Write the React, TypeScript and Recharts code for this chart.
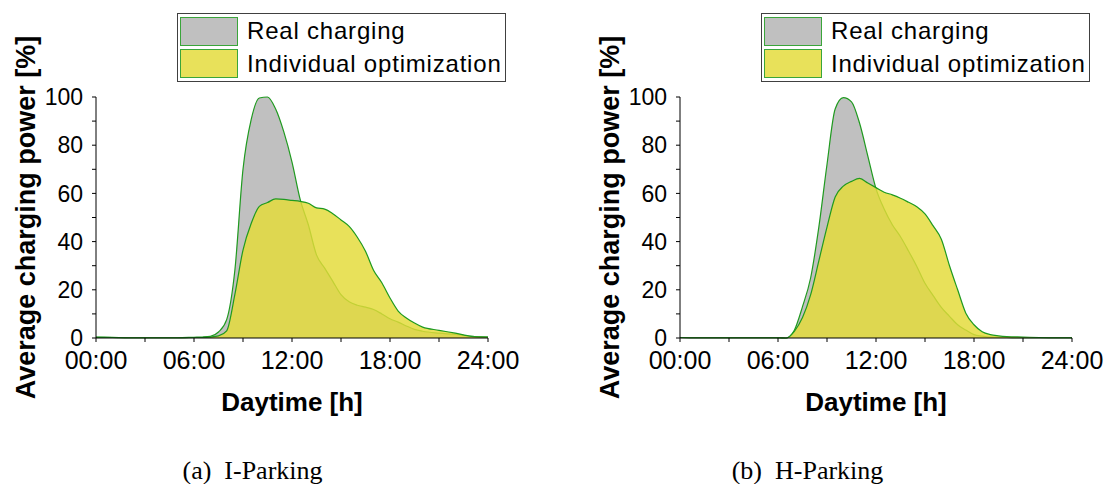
import { AreaChart, Area, XAxis, YAxis, Legend } from 'recharts'

// Time of day in hours, shared by all four profiles
const HOURS = [
  0, 1, 2, 3, 4, 5, 6,
  6.5, 7, 7.5, 8, 8.5, 9, 9.5, 10, 10.5, 11, 11.5, 12, 12.5, 13, 13.5,
  14, 14.5, 15, 15.5, 16, 16.5, 17, 17.5, 18, 18.5, 19, 19.5, 20,
  21, 22, 23, 24,
]

// Average charging power [%], I-Parking
const I_PARKING_REAL = [
  0.4, 0.3, 0.1, 0.1, 0.1, 0.1, 0.3,
  0.4, 0.7, 2.5, 7.6, 28, 70, 90.6, 99.6, 100, 95, 85.5, 73, 57.5, 47, 34.5,
  29, 23.5, 18, 15, 13.6, 12.8, 11.8, 10, 8, 6.6, 5, 3.6, 2.8,
  2, 1.5, 0.7, 0.4,
]
const I_PARKING_OPT = [
  0.3, 0.2, 0.1, 0.1, 0.1, 0.1, 0.2,
  0.2, 0.4, 0.9, 3, 18, 36.5, 47.5, 54.6, 56.2, 57.7, 57.5, 57.1, 56.7, 55.9, 54,
  53.5, 51.6, 49, 46.3, 41.8, 36, 28, 22.9, 16.6, 11.2, 8.3, 6.2, 4.5,
  3.2, 2, 0.7, 0.4,
]

// Average charging power [%], H-Parking
const H_PARKING_REAL = [
  0.2, 0.1, 0.1, 0.1, 0.1, 0.1, 0.1,
  0, 3.2, 13, 25, 46, 72, 95, 99.7, 98, 89, 75.5, 62, 53.5, 47, 42,
  36, 29.7, 22.7, 17.6, 12.7, 9, 5.5, 3.3, 1.4, 0.8, 0.4, 0.3, 0.2,
  0.1, 0.1, 0.1, 0.1,
]
const H_PARKING_OPT = [
  0.2, 0.1, 0.1, 0.1, 0.1, 0.1, 0.1,
  0, 2.8, 8.5, 18, 32, 46, 58.5, 63, 65, 66.2, 64.3, 62.4, 60.5, 59.4, 58,
  56.3, 54.5, 51.5, 46.5, 41, 30, 20, 10.3, 5.5, 2.6, 1.4, 0.9, 0.6,
  0.4, 0.2, 0.1, 0.1,
]

const X_TICKS = [0, 3, 6, 9, 12, 15, 18, 21, 24]
const Y_TICKS = [0, 10, 20, 30, 40, 50, 60, 70, 80, 90, 100]
const SERIES_NAMES = ['Real charging', 'Individual optimization']
const CAPTIONS = ['(a)\u2002I-Parking', '(b)\u2002H-Parking']

const LINE = '#1f9a1f'
const GRAY = '#c0c0c0'
const YELLOW = '#e3db38'
const YELLOW_SWATCH = '#e8e15a'
const SWATCH_BORDER = '#3aa53a'

const fmtHour = (h: number) => (h % 6 === 0 ? `${String(h).padStart(2, '0')}:00` : '')
const fmtPct = (v: number) => (v % 20 === 0 ? String(v) : '')

function ChargeLegend() {
  const swatches = [GRAY, YELLOW_SWATCH]
  return (
    <svg width={330} height={70} style={{ display: 'block' }}>
      <rect x={0.5} y={0.5} width={328} height={68} fill="#fff" stroke="#404040" />
      {SERIES_NAMES.map((name, i) => (
        <g key={name}>
          <rect x={3.5} y={4.5 + i * 32} width={57} height={28} fill={swatches[i]} stroke={SWATCH_BORDER} />
          <text x={70} y={26.3 + i * 32.4} fontSize={24} letterSpacing={0.8} fill="#000">{name}</text>
        </g>
      ))}
    </svg>
  )
}

function ParkingChart({ real, opt }: { real: number[]; opt: number[] }) {
  const data = HOURS.map((h, i) => ({ h, real: real[i], opt: opt[i] }))
  return (
    <AreaChart width={520} height={420} data={data} margin={{ top: 97, right: 32, bottom: 0, left: 0 }}>
      <XAxis
        dataKey="h" type="number" domain={[0, 24]} ticks={X_TICKS} interval={0}
        tickFormatter={fmtHour} tickSize={4} tickMargin={9} height={82}
        axisLine={{ stroke: '#000' }} tickLine={{ stroke: '#000' }}
        tick={{ fontSize: 25, fill: '#000' }}
        label={{ value: 'Daytime [h]', position: 'insideBottom', offset: 9, style: { fontSize: 26, fontWeight: 'bold', fill: '#000' } }}
      />
      <YAxis
        type="number" domain={[0, 100]} ticks={Y_TICKS} interval={0}
        tickFormatter={fmtPct} tickSize={4} tickMargin={9} width={96}
        axisLine={{ stroke: '#000' }} tickLine={{ stroke: '#000' }}
        tick={{ fontSize: 23, fill: '#000' }}
        label={{
          value: 'Average charging power [%]', angle: -90, position: 'insideLeft', offset: 25,
          style: { textAnchor: 'middle', fontSize: 27, fontWeight: 'bold', fill: '#000' },
        }}
      />
      <Legend
        layout="vertical" align="center" verticalAlign="middle"
        wrapperStyle={{ left: 177, top: 13 }}
        content={() => <ChargeLegend />}
      />
      <Area dataKey="real" name={SERIES_NAMES[0]} type="monotone" stroke={LINE} strokeWidth={1.2}
        fill={GRAY} fillOpacity={1} isAnimationActive={false} />
      <Area dataKey="opt" name={SERIES_NAMES[1]} type="monotone" stroke={LINE} strokeWidth={1.2}
        fill={YELLOW} fillOpacity={0.83} isAnimationActive={false} />
    </AreaChart>
  )
}

export default function App() {
  return (
    <div style={{ position: 'relative', width: 1110, height: 484, background: '#fff', fontFamily: '"Liberation Sans", Arial, sans-serif' }}>
      <style>{'body { margin: 0; }'}</style>
      <div style={{ position: 'absolute', left: 0, top: 0 }}>
        <ParkingChart real={I_PARKING_REAL} opt={I_PARKING_OPT} />
      </div>
      <div style={{ position: 'absolute', left: 584, top: 0 }}>
        <ParkingChart real={H_PARKING_REAL} opt={H_PARKING_OPT} />
      </div>
      <svg width={1110} height={484} style={{ position: 'absolute', left: 0, top: 0, pointerEvents: 'none' }}>
        {CAPTIONS.map((c, i) => (
          <text key={c} x={i === 0 ? 252.5 : 807.5} y={479} textAnchor="middle"
            fontFamily='"Liberation Serif", "Times New Roman", serif' fontSize={26} fill="#000">{c}</text>
        ))}
      </svg>
    </div>
  )
}
